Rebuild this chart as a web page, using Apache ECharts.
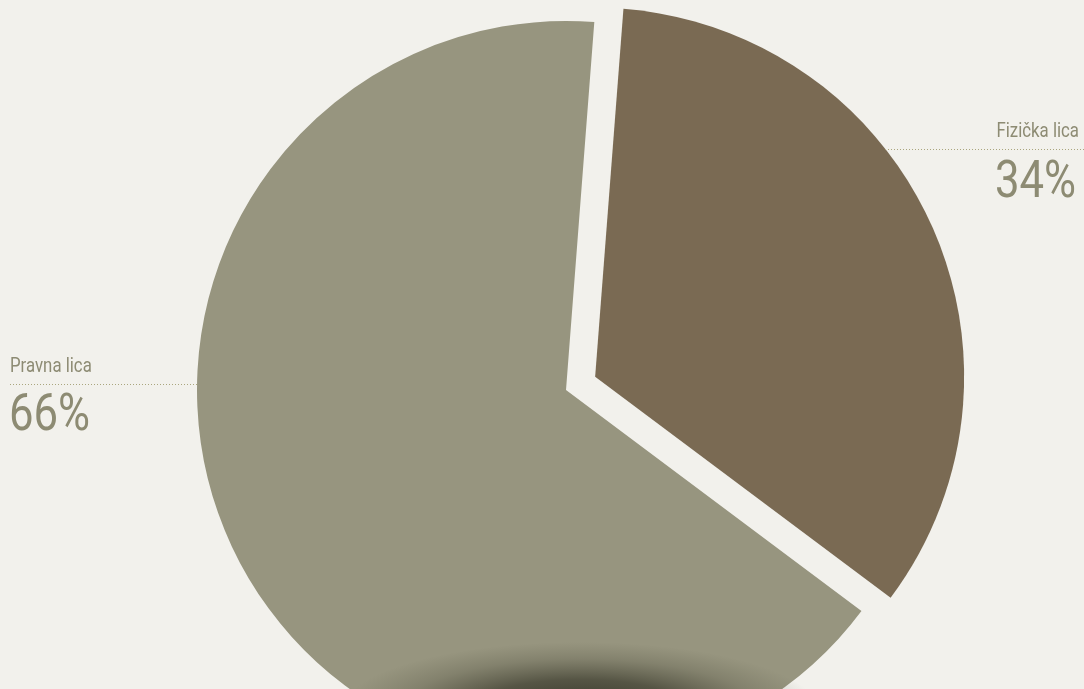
<!DOCTYPE html>
<html>
<head>
<meta charset="utf-8">
<script src="https://cdn.jsdelivr.net/npm/echarts@6/dist/echarts.min.js"></script>
<style>
html,body{margin:0;padding:0;background:#f2f1ec;}
#c{width:1084px;height:689px;}
</style>
</head>
<body>
<div id="c"></div>
<script>
const categories = ['Fizička lica', 'Pravna lica'];
const values = [34, 66];
const sliceColors = ['#7a6a53', '#97957f'];

const chart = echarts.init(document.getElementById('c'), null, {renderer: 'canvas'});
const FONT = 'Roboto, "Noto Sans", sans-serif';
const TXT = '#8d8b73';
const LINE = '#aaa67e';
const SX = 0.84;

const total = values.reduce((a, b) => a + b, 0);
const pct = values.map(v => Math.round(v / total * 100) + '%');

function label(text, x, y, size, align) {
  return {
    type: 'text', z: 100, silent: true, x: x, y: y, scaleX: SX, scaleY: 1,
    style: {text: text, font: size + 'px ' + FONT, fill: TXT, align: align, verticalAlign: 'top'}
  };
}

chart.setOption({
  backgroundColor: '#f2f1ec',
  animation: false,
  series: [{
    type: 'pie',
    center: [566, 390],
    radius: [0, 369],
    startAngle: 85.6,
    clockwise: true,
    selectedMode: 'single',
    selectedOffset: 32,
    silent: true,
    label: {show: false},
    labelLine: {show: false},
    emphasis: {disabled: true},
    data: categories.map((c, i) => ({
      name: c, value: values[i], selected: i === 0,
      itemStyle: {color: sliceColors[i]}
    }))
  }],
  graphic: [
    {
      type: 'circle', z: 100, silent: true,
      x: 580, y: 710, scaleX: 3.5, scaleY: 1,
      shape: {cx: 0, cy: 0, r: 68},
      style: {
        fill: {
          type: 'radial', x: 0.5, y: 0.5, r: 0.5,
          colorStops: [
            {offset: 0, color: 'rgba(48,48,36,0.95)'},
            {offset: 0.45, color: 'rgba(58,58,44,0.7)'},
            {offset: 0.75, color: 'rgba(70,70,54,0.25)'},
            {offset: 1, color: 'rgba(80,80,62,0)'}
          ]
        }
      }
    },
    {
      type: 'line', z: 100, silent: true,
      shape: {x1: 10, y1: 384.5, x2: 198, y2: 384.5},
      style: {stroke: LINE, lineWidth: 1, lineDash: [1, 2]}
    },
    label(categories[1], 10, 357, 20, 'left'),
    label(pct[1], 9, 391, 52, 'left'),
    {
      type: 'line', z: 100, silent: true,
      shape: {x1: 885, y1: 149.5, x2: 1084, y2: 149.5},
      style: {stroke: LINE, lineWidth: 1, lineDash: [1, 2]}
    },
    label(categories[0], 1079, 122, 20, 'right'),
    label(pct[0], 1076, 158, 52, 'right')
  ]
});
</script>
</body>
</html>
